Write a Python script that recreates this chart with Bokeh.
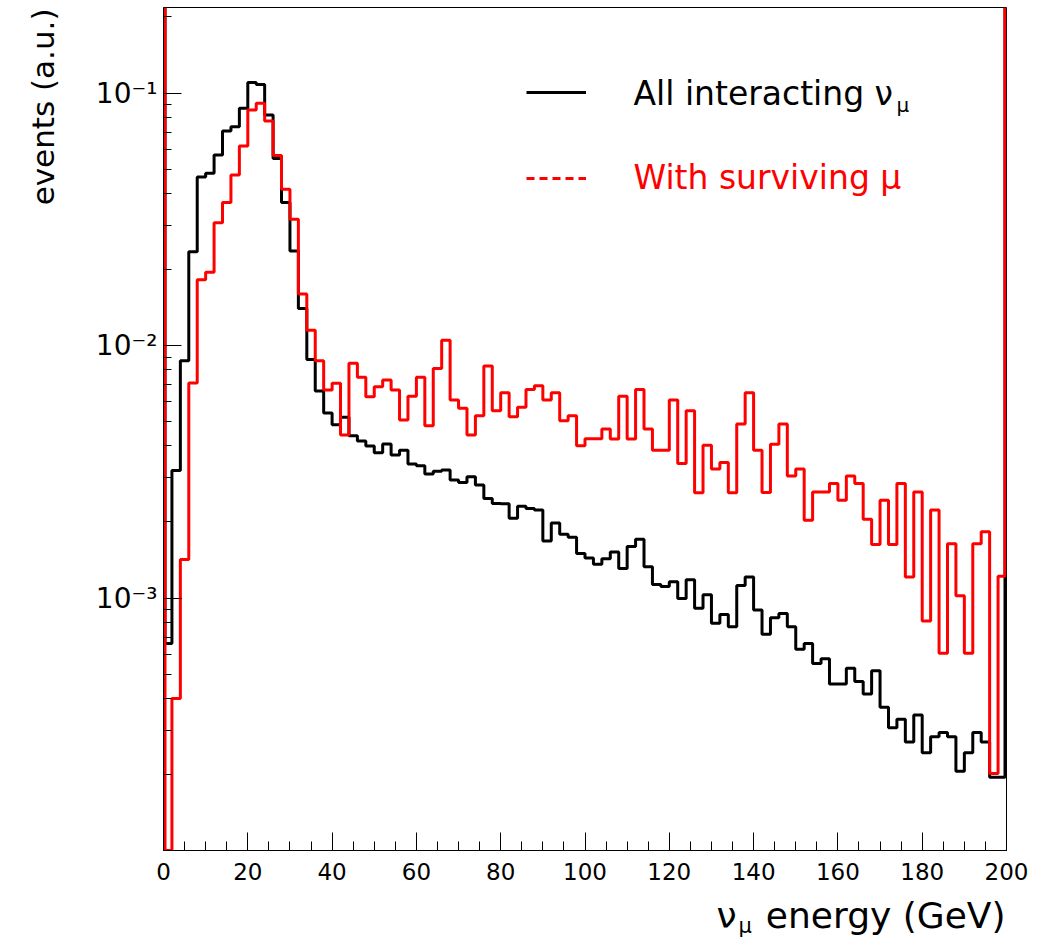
import numpy as np
from bokeh.plotting import figure
from bokeh.models import (Range1d, LogTicker, SingleIntervalTicker,
                          CustomJSTickFormatter, Label, Legend, LegendItem)
from bokeh.embed import file_html
from bokeh.resources import INLINE

# ---------------- data ----------------
X_MIN, X_MAX, N_BINS = 0.0, 200.0, 100

all_interacting = [
    6.6e-4, 3.2e-3, 8.7e-3, 0.0235, 0.0465, 0.0481, 0.0568, 0.0707, 0.0735, 0.087,
    0.110, 0.108, 0.0818, 0.055, 0.0368, 0.0237, 0.0140, 8.8e-3, 6.6e-3, 5.4e-3,
    4.85e-3, 5.2e-3, 4.39e-3, 4.19e-3, 4.0e-3, 3.76e-3, 4.07e-3, 3.68e-3, 3.85e-3, 3.39e-3,
    3.34e-3, 3.1e-3, 3.18e-3, 3.21e-3, 2.93e-3, 2.87e-3, 3.02e-3, 2.8e-3, 2.48e-3, 2.37e-3,
    2.36e-3, 2.07e-3, 2.31e-3, 2.26e-3, 2.23e-3, 1.68e-3, 1.98e-3, 1.79e-3, 1.74e-3, 1.50e-3,
    1.44e-3, 1.36e-3, 1.43e-3, 1.52e-3, 1.31e-3, 1.60e-3, 1.71e-3, 1.33e-3, 1.13e-3, 1.11e-3,
    1.16e-3, 9.95e-4, 1.18e-3, 9.1e-4, 1.03e-3, 7.94e-4, 8.6e-4, 7.7e-4, 1.12e-3, 1.21e-3,
    8.97e-4, 7.18e-4, 8.36e-4, 8.69e-4, 7.7e-4, 6.27e-4, 6.6e-4, 5.5e-4, 5.75e-4, 4.56e-4,
    4.56e-4, 5.27e-4, 4.67e-4, 4.17e-4, 5.15e-4, 3.69e-4, 3.06e-4, 3.31e-4, 2.69e-4, 3.44e-4,
    2.44e-4, 2.82e-4, 2.93e-4, 2.82e-4, 2.06e-4, 2.44e-4, 2.93e-4, 2.69e-4, 1.95e-4, 1.95e-4,
]

with_surviving_mu = [
    0.0, 4.0e-4, 1.42e-3, 7.1e-3, 0.0182, 0.0195, 0.0306, 0.0368, 0.0473, 0.0617,
    0.0857, 0.091, 0.0775, 0.0565, 0.0416, 0.0316, 0.016, 0.0115, 8.7e-3, 6.67e-3,
    7.08e-3, 4.42e-3, 8.5e-3, 7.48e-3, 6.27e-3, 6.87e-3, 7.3e-3, 6.67e-3, 5.07e-3, 6.3e-3,
    7.48e-3, 4.81e-3, 8.1e-3, 0.0105, 6.08e-3, 5.64e-3, 4.42e-3, 5.27e-3, 8.3e-3, 5.52e-3,
    6.5e-3, 5.22e-3, 5.69e-3, 6.7e-3, 6.92e-3, 6.08e-3, 6.5e-3, 5.04e-3, 5.27e-3, 4.01e-3,
    4.27e-3, 4.27e-3, 4.67e-3, 4.26e-3, 6.3e-3, 4.26e-3, 6.7e-3, 4.67e-3, 3.85e-3, 3.85e-3,
    6.08e-3, 3.41e-3, 5.51e-3, 2.61e-3, 4.03e-3, 3.24e-3, 3.44e-3, 2.61e-3, 4.89e-3, 6.5e-3,
    3.85e-3, 2.62e-3, 4.06e-3, 4.89e-3, 3.04e-3, 3.24e-3, 2.03e-3, 2.63e-3, 2.63e-3, 2.84e-3,
    2.44e-3, 3.04e-3, 2.84e-3, 2.05e-3, 1.63e-3, 2.44e-3, 1.63e-3, 2.84e-3, 1.21e-3, 2.63e-3,
    8.1e-4, 2.23e-3, 6.04e-4, 1.64e-3, 1.02e-3, 6.04e-4, 1.64e-3, 1.83e-3, 2.02e-4, 1.22e-3,
]

legend_labels = ["All interacting \u03bd", "With surviving \u03bc"]
x_title = "energy (GeV)"
y_title = "events (a.u.)"

# ---------------- layout constants ----------------
FONT = "DejaVu Sans"
FRAME_W, FRAME_H = 843, 843
LOG_BOT = -4.0
LOG_TOP = LOG_BOT + FRAME_H / 252.5
Y_MIN, Y_MAX = 10 ** LOG_BOT, 10 ** LOG_TOP
PAGE_FRAME_LEFT, PAGE_FRAME_TOP = 163, 7
PAGE_FRAME_BOTTOM = PAGE_FRAME_TOP + FRAME_H
LINE_W = 3
EDGE_INSET = (LINE_W / 2) * (X_MAX - X_MIN) / FRAME_W   # keep edge strokes fully visible


def xd(px):
    """page pixel x -> data x (for placing annotations)"""
    return X_MIN + (px - PAGE_FRAME_LEFT) * (X_MAX - X_MIN) / FRAME_W


def yd(py):
    """page pixel y -> data y (log axis)"""
    return 10 ** (LOG_TOP - (py - PAGE_FRAME_TOP) * (LOG_TOP - LOG_BOT) / FRAME_H)


edges = np.linspace(X_MIN, X_MAX, N_BINS + 1)


def outline(vals):
    v = np.clip(np.asarray(vals, dtype=float), Y_MIN, None)
    e = edges.copy()
    e[0] += EDGE_INSET
    e[-1] -= EDGE_INSET
    xs = [e[0]]
    ys = [Y_MAX]
    for i in range(N_BINS):
        xs += [e[i], e[i + 1]]
        ys += [v[i], v[i]]
    xs.append(e[-1])
    ys.append(Y_MAX)
    return xs, ys


p = figure(
    frame_width=FRAME_W, frame_height=FRAME_H,
    x_range=Range1d(X_MIN, X_MAX), y_range=Range1d(Y_MIN, Y_MAX),
    y_axis_type="log", output_backend="svg", toolbar_location=None,
    min_border_left=PAGE_FRAME_LEFT, min_border_right=24,
    min_border_top=PAGE_FRAME_TOP, min_border_bottom=95,
    background_fill_color="white", border_fill_color="white",
)
p.grid.visible = False
p.outline_line_color = "black"
p.outline_line_width = 1

# axes
p.xaxis.ticker = SingleIntervalTicker(interval=20, num_minor_ticks=4)
p.yaxis.ticker = LogTicker(num_minor_ticks=10)
p.yaxis.formatter = CustomJSTickFormatter(code="""
const e = Math.round(Math.log10(tick));
if (e < -3) { return ""; }
const sup = {"-": "\u207b", "0": "\u2070", "1": "\u00b9", "2": "\u00b2", "3": "\u00b3",
             "4": "\u2074", "5": "\u2075", "6": "\u2076", "7": "\u2077", "8": "\u2078", "9": "\u2079"};
return "10" + String(e).split("").map(c => sup[c]).join("");
""")
for ax in (p.xaxis[0], p.yaxis[0]):
    ax.axis_line_color = "black"
    ax.axis_line_width = 1
    ax.major_tick_out = 0
    ax.minor_tick_out = 0
    ax.major_tick_in = 18
    ax.minor_tick_in = 9
    ax.major_tick_line_color = "black"
    ax.minor_tick_line_color = "black"
    ax.major_label_text_font = FONT
    ax.major_label_text_color = "black"
p.xaxis.major_label_text_font_size = "23px"
p.xaxis.major_label_standoff = 12
p.yaxis.major_label_text_font_size = "28px"
p.yaxis.major_label_standoff = 6
p.yaxis.minor_tick_in = 8

# histograms
bx, by = outline(all_interacting)
rx, ry = outline(with_surviving_mu)
r_all = p.line(bx, by, line_color="black", line_width=LINE_W)
r_mu = p.line(rx, ry, line_color="#ff0000", line_width=LINE_W)
# legend-only renderer (dashed sample); its points lie outside the visible range
r_mu_leg = p.line(x=[X_MIN - 20, X_MIN - 10], y=[Y_MIN, Y_MIN],
                  line_color="#ff0000", line_width=LINE_W, line_dash="8 5")

# legend sample lines
for rend, ly in ((r_all, 92), (r_mu_leg, 178)):
    leg = Legend(items=[LegendItem(label=" ", renderers=[rend])],
                 location=(526 - PAGE_FRAME_LEFT, PAGE_FRAME_BOTTOM - (ly + 10)),
                 glyph_width=60, glyph_height=20, label_height=20, label_width=1,
                 label_text_font_size="1px", label_standoff=0,
                 padding=0, margin=0, spacing=0,
                 background_fill_alpha=0, border_line_alpha=0)
    p.add_layout(leg, "center")


# texts
def lab(text, px, py, size, color="black", align="left", baseline="alphabetic",
        angle=0.0, place="center"):
    p.add_layout(Label(x=xd(px), y=yd(py), text=text, text_font=FONT,
                       text_font_size=f"{size}px", text_color=color,
                       text_align=align, text_baseline=baseline, angle=angle), place)


lab(legend_labels[0], 633, 93, 33)
lab("\u03bc", 896, 104, 20)
lab(legend_labels[1], 633, 177, 33, color="#ff0000")

lab("\u03bd", 716, 915, 36, place="below")
lab("\u03bc", 738, 925, 21, place="below")
lab(x_title, 1005, 915, 36, align="right", place="below")

lab(y_title, 42, 8, 31, align="right", angle=np.pi / 2, place="left")

open("out.html", "w").write(file_html(p, INLINE))
